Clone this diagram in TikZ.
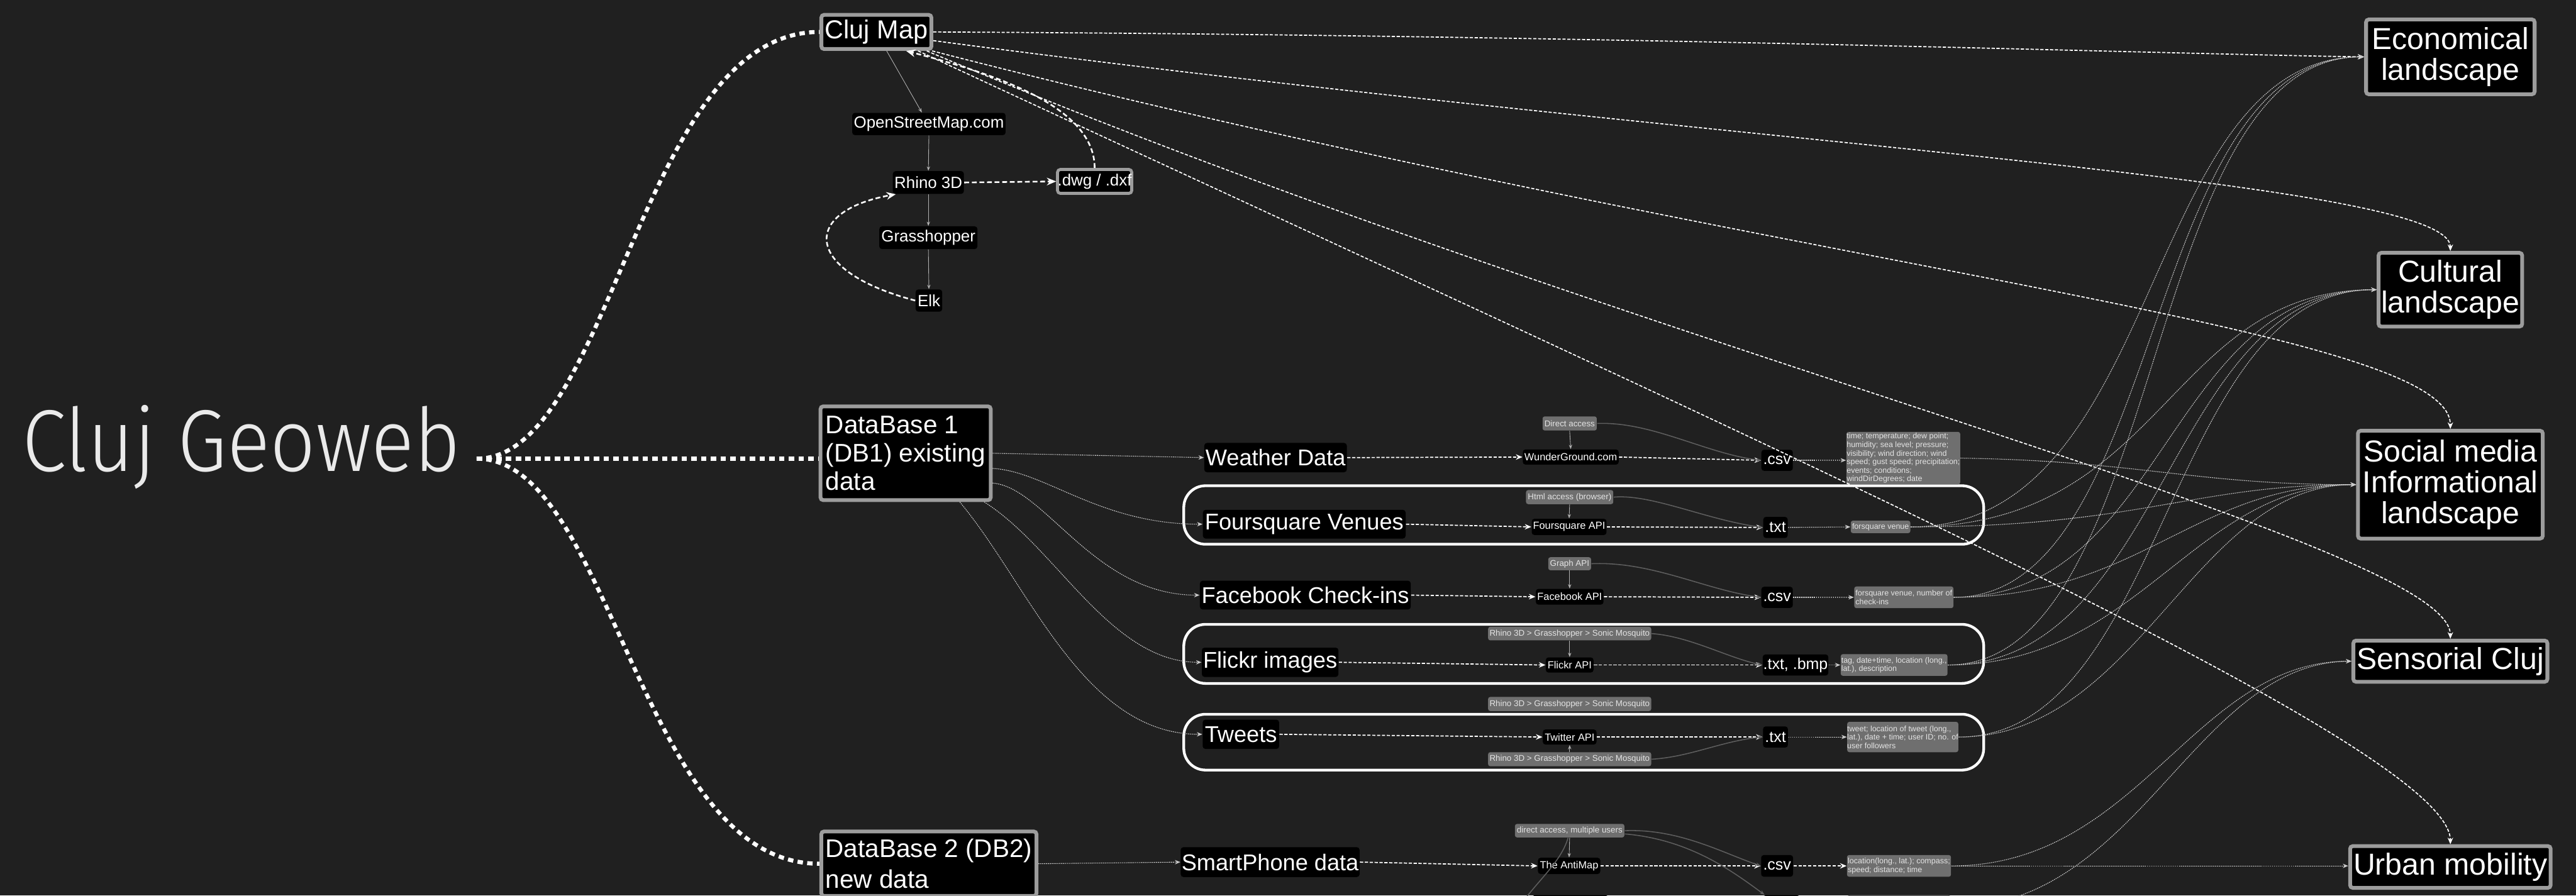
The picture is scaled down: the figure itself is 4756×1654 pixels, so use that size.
\documentclass[tikz,border=0pt]{standalone}
\usepackage{fontspec}
\setmainfont{Liberation Sans}
\newfontfamily\geofont{Fira Sans Light}[FakeStretch=0.91]
\usetikzlibrary{arrows.meta}
\definecolor{bgc}{HTML}{202020}
\definecolor{bord}{HTML}{9C9C9C}
\definecolor{labc}{HTML}{6F6F6F}
\definecolor{labtxt}{HTML}{E4E4E4}
\definecolor{dimline}{HTML}{5E5E5E}
\definecolor{geoc}{HTML}{EAEAEA}
\begin{document}
\begin{tikzpicture}[x=0.01cm, y=-0.01cm,
  bbox/.style={fill=black, text=white, rounded corners=0.05cm, inner sep=0pt},
  gbord/.style={fill=black, text=white, draw=bord, line width=0.07cm, rounded corners=0.05cm, inner sep=0pt},
  lbox/.style={fill=labc, text=labtxt, rounded corners=0.04cm, inner sep=0pt},
  abox/.style={fill=labc, text=labtxt, rounded corners=0.04cm, inner sep=0pt, align=left, font=\fontsize{4.13}{4.47}\selectfont},
  grp/.style={draw=white, line width=0.05cm, rounded corners=0.4cm, inner sep=0pt},
  fA/.style={font=\fontsize{13.66}{15.7}\selectfont},
  fB/.style={font=\fontsize{8.54}{10}\selectfont},
  fC/.style={font=\fontsize{13.37}{14.8}\selectfont},
  fD/.style={font=\fontsize{11.95}{13.8}\selectfont},
  fE/.style={font=\fontsize{15.93}{16.2}\selectfont},
  fF/.style={font=\fontsize{5.41}{6.2}\selectfont},
  fG/.style={font=\fontsize{4.41}{5}\selectfont},
  fI/.style={font=\fontsize{8.25}{9.5}\selectfont},
  tdot/.style={draw=white, line width=0.075cm, dash pattern=on 0.1cm off 0.08cm},
  wd/.style={draw=white, line width=0.02cm, dash pattern=on 0.06cm off 0.03cm, -{Stealth[length=0.12cm,width=0.1cm]}},
  wdt/.style={draw=white!80!black, line width=0.013cm, dash pattern=on 0.02cm off 0.015cm, -{Stealth[length=0.1cm,width=0.08cm]}},
  tline/.style={draw=white!70!black, line width=0.01cm, -{Stealth[length=0.08cm,width=0.06cm]}},
  hd/.style={draw=white, line width=0.03cm, dash pattern=on 0.09cm off 0.05cm, -{Stealth[length=0.17cm,width=0.14cm]}},
  gc/.style={draw=dimline, line width=0.018cm, -{Stealth[length=0.09cm,width=0.07cm]}}
]
\useasboundingbox (0,0) rectangle (4756,1654);
\clip (0,0) rectangle (4756,1654);
\fill[bgc] (0,0) rectangle (4756,1654);

% title
\node[text=geoc, inner sep=0pt, anchor=base west, font=\geofont\fontsize{46.1}{50}\selectfont] (geo) at (40,870) {Cluj Geoweb};
\coordinate (gwo) at (880,847);

% groups
\node[grp, minimum width=14.76cm, minimum height=1.08cm] (g1) at (2924,951) {};
\node[grp, minimum width=14.76cm, minimum height=1.09cm] (g2) at (2924,1207.5) {};
\node[grp, minimum width=14.76cm, minimum height=1.03cm] (g3) at (2924,1370.5) {};

% Cluj Map cluster
\node[gbord, minimum width=2.03cm, minimum height=0.63cm, fA] (cm) at (1618,59) {Cluj Map};
\node[bbox, minimum width=2.83cm, minimum height=0.41cm, fB] (osm) at (1715,229) {OpenStreetMap.com};
\node[bbox, minimum width=1.31cm, minimum height=0.42cm, fB] (rh) at (1714,337) {Rhino 3D};
\node[gbord, line width=0.055cm, minimum width=1.33cm, minimum height=0.44cm, fB] (dwg) at (2021,335) {.dwg / .dxf};
\node[bbox, minimum width=1.81cm, minimum height=0.42cm, fB] (gh) at (1714,439) {Grasshopper};
\node[bbox, minimum width=0.49cm, minimum height=0.41cm, fB] (elk) at (1715,555) {Elk};

% databases
\node[gbord, minimum width=3.14cm, minimum height=1.73cm, align=left, fC] (db1) at (1672,837) {DataBase 1\\(DB1) existing\\data};
\node[gbord, minimum width=3.97cm, minimum height=1.19cm, align=left, font=\fontsize{13.37}{16.2}\selectfont] (db2) at (1715,1595) {DataBase 2 (DB2)\\new data};

% sources
\node[bbox, minimum width=2.63cm, minimum height=0.54cm, fD] (wthr) at (2355,845) {Weather Data};
\node[bbox, minimum width=3.74cm, minimum height=0.53cm, fD] (fsq) at (2408,968) {Foursquare Venues};
\node[bbox, minimum width=3.89cm, minimum height=0.53cm, fD] (fbk) at (2410,1099) {Facebook Check-ins};
\node[bbox, minimum width=2.52cm, minimum height=0.54cm, fD] (flk) at (2345,1223) {Flickr images};
\node[bbox, minimum width=1.41cm, minimum height=0.54cm, fD] (twt) at (2291,1356) {Tweets};
\node[bbox, minimum width=3.30cm, minimum height=0.55cm, fD] (sp) at (2345,1592) {SmartPhone data};

% access / API column
\node[lbox, minimum width=1.00cm, minimum height=0.26cm, fG] (da) at (2898,782) {Direct access};
\node[bbox, minimum width=1.77cm, minimum height=0.28cm, fF] (wug) at (2900,844) {WunderGround.com};
\node[lbox, minimum width=1.61cm, minimum height=0.26cm, fG] (html) at (2898,918) {Html access (browser)};
\node[bbox, minimum width=1.38cm, minimum height=0.30cm, fF] (fapi) at (2897,973) {Foursquare API};
\node[lbox, minimum width=0.79cm, minimum height=0.24cm, fG] (graph) at (2898,1041) {Graph API};
\node[bbox, minimum width=1.25cm, minimum height=0.29cm, fF] (fbapi) at (2898,1102) {Facebook API};
\node[lbox, minimum width=3.01cm, minimum height=0.25cm, fG] (rh1) at (2898,1170) {Rhino 3D > Grasshopper > Sonic Mosquito};
\node[bbox, minimum width=0.88cm, minimum height=0.28cm, fF] (flapi) at (2898,1228) {Flickr API};
\node[lbox, minimum width=3.01cm, minimum height=0.26cm, fG] (rh2) at (2898,1300) {Rhino 3D > Grasshopper > Sonic Mosquito};
\node[bbox, minimum width=0.99cm, minimum height=0.28cm, fF] (twapi) at (2898,1361) {Twitter API};
\node[lbox, minimum width=3.01cm, minimum height=0.26cm, fG] (rh3) at (2898,1402) {Rhino 3D > Grasshopper > Sonic Mosquito};
\node[lbox, minimum width=2.02cm, minimum height=0.25cm, fG] (dmu) at (2898,1534) {direct access, multiple users};
\node[bbox, minimum width=1.15cm, minimum height=0.30cm, fF] (anti) at (2897,1599) {The AntiMap};

% file formats
\node[bbox, minimum width=0.58cm, minimum height=0.39cm, fI] (csv1) at (3281,850) {.csv};
\node[bbox, minimum width=0.45cm, minimum height=0.39cm, fI] (txt1) at (3278,974) {.txt};
\node[bbox, minimum width=0.58cm, minimum height=0.39cm, fI] (csv2) at (3281,1103) {.csv};
\node[bbox, minimum width=1.21cm, minimum height=0.39cm, fI] (tb) at (3315,1228) {.txt, .bmp};
\node[bbox, minimum width=0.46cm, minimum height=0.39cm, fI] (txt2) at (3278,1361) {.txt};
\node[bbox, minimum width=0.59cm, minimum height=0.40cm, fI] (csv3) at (3281,1599) {.csv};

% attributes
\node[abox, minimum width=2.10cm, minimum height=0.97cm] (wat) at (3514,846) {time; temperature; dew point;\\humidity; sea level; pressure;\\visibility; wind direction; wind\\speed; gust speed; precipitation;\\events; conditions;\\windDirDegrees; date};
\node[abox, minimum width=1.10cm, minimum height=0.23cm] (fven) at (3472,973) {forsquare venue};
\node[abox, minimum width=1.83cm, minimum height=0.40cm] (fbat) at (3515,1103) {forsquare venue, number of\\check-ins};
\node[abox, minimum width=1.97cm, minimum height=0.40cm] (flat) at (3497,1228) {tag, date+time, location (long.,\\lat.), description};
\node[abox, minimum width=2.05cm, minimum height=0.56cm] (twat) at (3513,1361) {tweet; location of tweet (long.,\\lat.), date + time; user ID; no. of\\user followers};
\node[abox, minimum width=1.92cm, minimum height=0.40cm] (loc) at (3506,1599) {location(long., lat.); compass;\\speed; distance; time};

% partly visible row at the bottom edge
\node[bbox, minimum width=1.40cm, minimum height=0.46cm] (p1) at (2899,1676) {};
\node[bbox, minimum width=0.67cm, minimum height=0.46cm] (p2) at (3289,1676) {};
\node[lbox, minimum width=1.90cm, minimum height=0.46cm] (p3) at (3506,1676) {};

% landscapes
\node[gbord, minimum width=3.11cm, minimum height=1.38cm, align=center, fE] (econ) at (4524,105) {Economical\\landscape};
\node[gbord, minimum width=2.65cm, minimum height=1.36cm, align=center, fE] (cult) at (4524,535) {Cultural\\landscape};
\node[gbord, minimum width=3.41cm, minimum height=1.99cm, align=center, fE] (soc) at (4524,895) {Social media\\Informational\\landscape};
\node[gbord, minimum width=3.58cm, minimum height=0.76cm, fE] (sens) at (4524,1221) {Sensorial Cluj};
\node[gbord, minimum width=3.70cm, minimum height=0.77cm, fE] (urb) at (4524,1601) {Urban mobility};

% ---------- connectors ----------
% from title
\draw[tdot] (gwo) .. controls (1130,847) and (1180,59) .. (cm.west);
\draw[tdot] (gwo) -- (gwo -| db1.west);
\draw[tdot] (gwo) .. controls (1130,847) and (1180,1595) .. (db2.west);

% Cluj Map cluster
\draw[tline] ([xshift=0.19cm]cm.south) -- ([xshift=-0.13cm]osm.north);
\draw[tline] (osm.south) -- (rh.north);
\draw[tline] (rh.south) -- (gh.north);
\draw[tline] (gh.south) -- (elk.north);
\draw[hd] (elk.west) .. controls (1480,500) and (1480,390) .. ([xshift=0.06cm]rh.south west);
\draw[hd] (rh.east) -- (dwg.west);
\draw[hd] (dwg.north) .. controls (2021,200) and (1850,140) .. ([xshift=0.55cm]cm.south);

% Cluj Map to landscapes
\draw[wd] (cm.east) .. controls (3000,65) and (4000,100) .. (econ.west);
\draw[wd] ([yshift=-0.16cm]cm.east) .. controls (3200,270) and (4524,330) .. (cult.north);
\draw[wd] ([xshift=-0.02cm]cm.south east) .. controls (3300,500) and (4524,600) .. (soc.north);
\draw[wd] ([xshift=-0.12cm]cm.south east) .. controls (3000,640) and (4524,1000) .. (sens.north);
\draw[wd] ([xshift=-0.28cm]cm.south east) .. controls (3300,840) and (4524,1380) .. (urb.north);

% DB1 to sources
\draw[wdt] (db1.east) -- (wthr.west);
\draw[wdt] ([yshift=-0.28cm]db1.east) .. controls (1930,870) and (2030,968) .. (fsq.west);
\draw[wdt] ([yshift=-0.55cm]db1.east) .. controls (1930,900) and (2020,1099) .. (fbk.west);
\draw[wdt] ([xshift=1.45cm]db1.south) .. controls (1950,1010) and (2050,1223) .. (flk.west);
\draw[wdt] ([xshift=1.0cm]db1.south) .. controls (1900,1080) and (2000,1356) .. (twt.west);

% weather row
\draw[wd] (wthr.east) -- (wug.west);
\draw[tline] (da.south) -- (wug.north);
\draw[wd] (wug.east) -- (csv1.west);
\draw[gc] (da.east) .. controls (3050,778) and (3150,838) .. (csv1.west);
\draw[wdt] (csv1.east) -- (csv1.east -| wat.west);

% foursquare row
\draw[wd] (fsq.east) -- (fapi.west);
\draw[tline] (html.south) -- (fapi.north);
\draw[wd] (fapi.east) -- (txt1.west);
\draw[gc] (html.east) .. controls (3050,912) and (3150,960) .. (txt1.west);
\draw[wdt] (txt1.east) -- (fven.west);

% facebook row
\draw[wd] (fbk.east) -- (fbapi.west);
\draw[tline] (graph.south) -- (fbapi.north);
\draw[wd] (fbapi.east) -- (csv2.west);
\draw[gc] (graph.east) .. controls (3050,1036) and (3150,1090) .. (csv2.west);
\draw[wdt] (csv2.east) -- (fbat.west);

% flickr row
\draw[wd] (flk.east) -- (flapi.west);
\draw[tline] (rh1.south) -- (flapi.north);
\draw[wd] (flapi.east) -- (tb.west);
\draw[gc] (rh1.east) .. controls (3120,1175) and (3190,1215) .. (tb.west);
\draw[wdt] (tb.east) -- (flat.west);

% tweets row
\draw[wd] (twt.east) -- (twapi.west);
\draw[tline] (rh3.north) -- (twapi.south);
\draw[wd] (twapi.east) -- (txt2.west);
\draw[gc] (rh3.east) .. controls (3120,1398) and (3180,1368) .. (txt2.west);
\draw[wdt] (txt2.east) -- (twat.west);

% smartphone row
\draw[wdt] (db2.east) -- (sp.west);
\draw[wd] (sp.east) -- (anti.west);
\draw[tline] (dmu.south) -- (anti.north);
\draw[wd] (anti.east) -- (csv3.west);
\draw[gc] (dmu.east) .. controls (3100,1530) and (3180,1575) .. (csv3.west);
\draw[gc] ([yshift=-0.06cm]dmu.east) .. controls (3120,1550) and (3200,1610) .. ([xshift=0.03cm]p2.north west);
\coordinate (wedge) at (2790,1700);
\draw[gc, -] ([xshift=-0.03cm]dmu.south) .. controls (2880,1600) and (2820,1640) .. (wedge);
\draw[wd] (csv3.east) -- (loc.west);
\draw[wdt] (loc.east) -- (loc.east -| urb.west);
\draw[wdt] (loc.east) .. controls (3950,1599) and (4050,1221) .. (sens.west);
\draw[wdt] (p3.east) .. controls (3950,1676) and (4050,1225) .. (sens.west);

% attributes to landscapes
\draw[wdt] (wat.east) .. controls (3950,851) and (4050,895) .. (soc.west);
\draw[wdt] (fven.east) .. controls (4000,973) and (3950,105) .. (econ.west);
\draw[wdt] (fven.east) .. controls (4000,973) and (4000,535) .. (cult.west);
\draw[wdt] (fven.east) .. controls (3950,973) and (4050,895) .. (soc.west);
\draw[wdt] (fbat.east) .. controls (4000,1103) and (3950,105) .. (econ.west);
\draw[wdt] (fbat.east) .. controls (4000,1103) and (4000,535) .. (cult.west);
\draw[wdt] (fbat.east) .. controls (3950,1103) and (4050,895) .. (soc.west);
\draw[wdt] (flat.east) .. controls (4000,1228) and (3950,105) .. (econ.west);
\draw[wdt] (flat.east) .. controls (4000,1228) and (4000,535) .. (cult.west);
\draw[wdt] (flat.east) .. controls (3950,1228) and (4050,895) .. (soc.west);
\draw[wdt] (twat.east) .. controls (4000,1361) and (4000,535) .. (cult.west);
\draw[wdt] (twat.east) .. controls (3950,1361) and (4050,895) .. (soc.west);
\end{tikzpicture}
\end{document}
